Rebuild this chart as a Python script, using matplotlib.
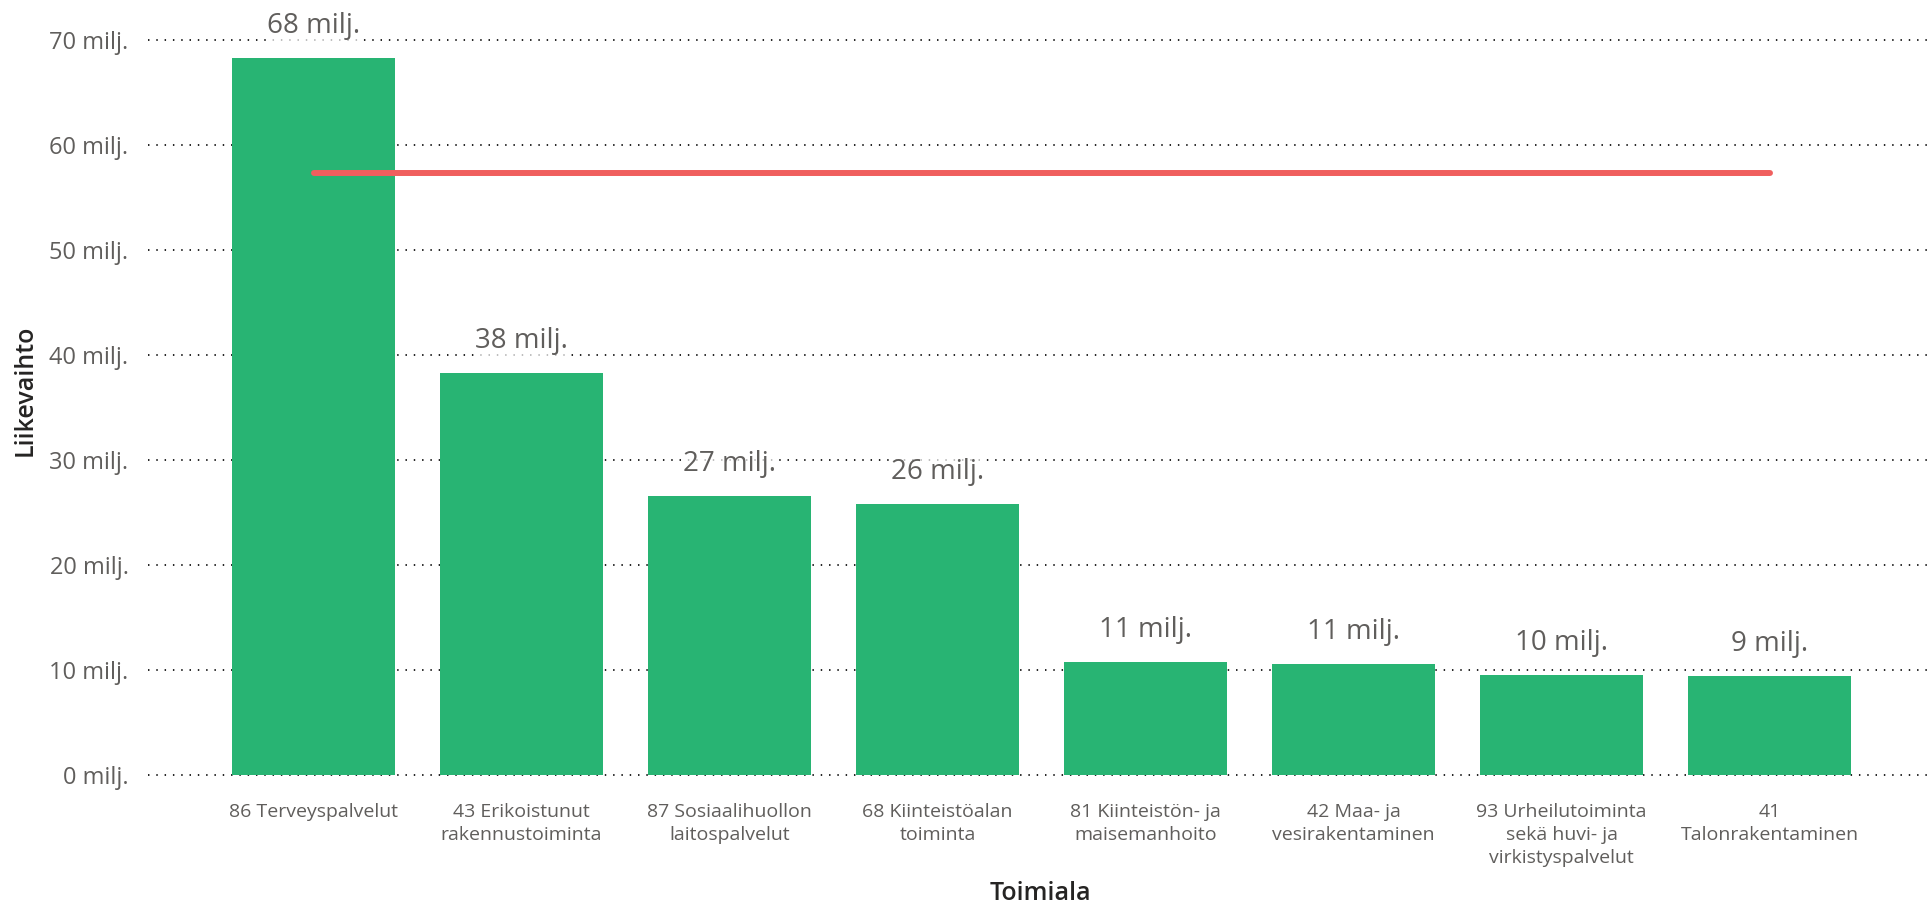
import numpy as np
import matplotlib.pyplot as plt

toimialat = [
    "86 Terveyspalvelut",
    "43 Erikoistunut\nrakennustoiminta",
    "87 Sosiaalihuollon\nlaitospalvelut",
    "68 Kiinteistöalan\ntoiminta",
    "81 Kiinteistön- ja\nmaisemanhoito",
    "42 Maa- ja\nvesirakentaminen",
    "93 Urheilutoiminta\nsekä huvi- ja\nvirkistyspalvelut",
    "41\nTalonrakentaminen",
]
liikevaihto = [68.3, 38.3, 26.6, 25.8, 10.8, 10.55, 9.55, 9.45]   # milj.
viiva = [57.3] * 8
yticks = [0, 10, 20, 30, 40, 50, 60, 70]

green = "#28B473"
red = "#F05F5E"
gray = "#605E5C"
dark = "#252423"

plt.rcParams['font.family'] = ['Open Sans', 'DejaVu Sans']

fig = plt.figure(figsize=(19.32, 9.13), dpi=100)
ax = fig.add_axes([148 / 1932, 1 - 775 / 913, 1 - 148 / 1932, 735 / 913])

x = np.arange(len(toimialat))
ax.bar(x, liikevaihto, width=0.784, color=green, zorder=2)
ax.plot(x, viiva, color=red, lw=4.3, solid_capstyle='round', zorder=3)

for xi, v in zip(x, liikevaihto):
    ax.annotate(f"{int(v + 0.5)} milj.", (xi, v), xytext=(0, 23), textcoords='offset points',
                ha='center', va='center', fontsize=20, color=gray, zorder=4,
                bbox=dict(facecolor='white', edgecolor='none', alpha=0.7, pad=0.5),
                annotation_clip=False)

ax.set_xlim(-0.796, 7.78)
ax.set_ylim(0, 70)
ax.set_yticks(yticks)
ax.set_yticklabels([f"{t} milj." for t in yticks])
ax.set_xticks(x)
ax.set_xticklabels(toimialat, fontsize=14, color=gray, linespacing=1.35, va='top')
ax.tick_params(axis='y', length=0, pad=14, labelsize=17, labelcolor=gray)
ax.tick_params(axis='x', length=0, pad=20)
ax.grid(axis='y', color='#111111', lw=1.3, linestyle=(0, (0.8, 3.8)), zorder=0)
ax.set_axisbelow(True)
for gl in ax.get_ygridlines():
    gl.set_clip_on(False)
for s in ax.spines.values():
    s.set_visible(False)

fig.text(1040 / 1932, 1 - 893 / 913, "Toimiala", ha='center', va='center', fontsize=18,
         color=dark, fontweight='semibold')
fig.text(25 / 1932, 1 - 390 / 913, "Liikevaihto", ha='center', va='center', rotation=90,
         fontsize=18, color=dark, fontweight='semibold')

fig.savefig("out.png", dpi=100)
